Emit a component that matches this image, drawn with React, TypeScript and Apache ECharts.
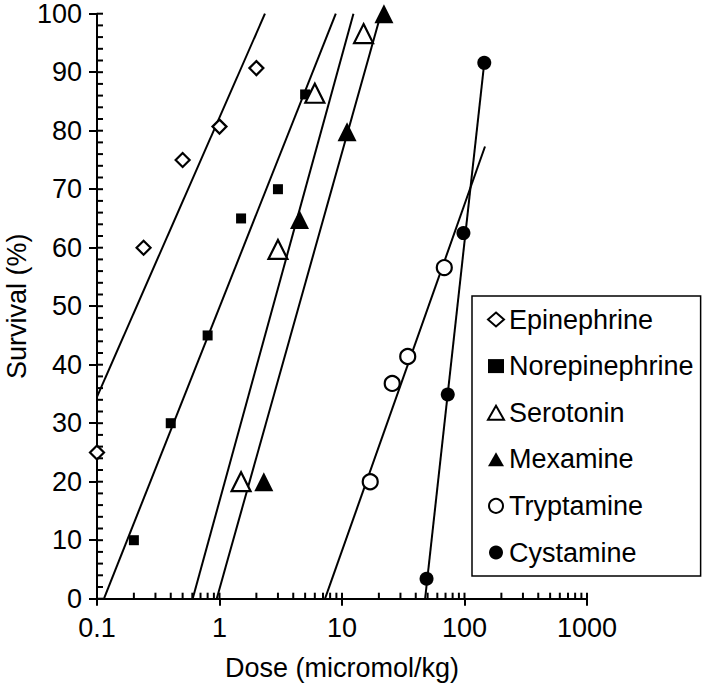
import React, { useEffect, useRef } from "react";
import * as echarts from "echarts";

const FONT = "Liberation Sans";

// Scatter data (dose in micromol/kg, survival %)
const epinephrineDose = [0.1, 0.24, 0.5, 1.0, 2.0];
const epinephrineSurv = [25, 60, 75, 80.7, 90.7];
const norepinephrineDose = [0.2, 0.4, 0.8, 1.5, 3.0, 5.0];
const norepinephrineSurv = [10, 30, 45, 65, 70, 86.2];
const serotoninDose = [1.5, 3.0, 6.0, 15];
const serotoninSurv = [20, 59.7, 86.4, 96.6];
const mexamineDose = [2.3, 4.5, 11, 22];
const mexamineSurv = [20, 64.8, 79.8, 100];
const tryptamineDose = [17, 25.7, 34.4, 68.4];
const tryptamineSurv = [20, 36.8, 41.4, 56.6];
const cystamineDose = [49, 73, 98, 145];
const cystamineSurv = [3.4, 34.9, 62.5, 91.6];

// Fitted line end points [dose, survival]
const epinephrineFit = [[0.1, 34.5], [2.35, 100]];
const norepinephrineFit = [[0.114, 0], [8.9, 100]];
const serotoninFit = [[0.604, 0], [12.4, 100]];
const mexamineFit = [[0.949, 0], [20.8, 100]];
const tryptamineFit = [[7.27, 0], [147, 77.3]];
const cystamineFit = [[47.7, 0], [145, 91.6]];

// Axis tick positions
const xMajorTicks = [0.1, 1, 10, 100, 1000];
const xMinorTicks = [
  0.2, 0.3, 0.4, 0.5, 0.6, 0.7, 0.8, 0.9,
  2, 3, 4, 5, 6, 7, 8, 9,
  20, 30, 40, 50, 60, 70, 80, 90,
  200, 300, 400, 500, 600, 700, 800, 900,
];
const yAllTicks = [
  0, 2, 4, 6, 8, 10, 12, 14, 16, 18, 20, 22, 24, 26, 28, 30, 32, 34, 36, 38, 40,
  42, 44, 46, 48, 50, 52, 54, 56, 58, 60, 62, 64, 66, 68, 70, 72, 74, 76, 78, 80,
  82, 84, 86, 88, 90, 92, 94, 96, 98, 100,
];

const legendNames = ["Epinephrine", "Norepinephrine", "Serotonin", "Mexamine", "Tryptamine", "Cystamine"];

const zip = (xs: number[], ys: number[]) => xs.map((x, i) => [x, ys[i]]);

export default function App() {
  const ref = useRef<HTMLDivElement>(null);
  useEffect(() => {
    if (!ref.current) return;
    const chart = echarts.init(ref.current, null, { renderer: "svg" });
    const hollow = { color: "#ffffff", borderColor: "#000000", borderWidth: 2.2, opacity: 1 };
    const filled = { color: "#000000", opacity: 1 };
    const lineSeries = (name: string, data: number[][]) => ({
      type: "line",
      name,
      data,
      showSymbol: false,
      symbol: "none",
      lineStyle: { color: "#000", width: 2 },
      z: 2,
      silent: true,
    });
    const scatter = (name: string, data: number[][], symbol: string, size: any, style: any) => ({
      type: "scatter",
      name,
      data,
      symbol,
      symbolSize: size,
      itemStyle: style,
      z: 5,
    });
    const axisLabelStyle = { fontFamily: FONT, fontSize: 27, color: "#000" };
    chart.setOption({
      animation: false,
      backgroundColor: "#ffffff",
      grid: { left: 97, right: 117, top: 13.7, bottom: 89.3, containLabel: false, outerBoundsMode: "none" },
      xAxis: {
        type: "log",
        logBase: 10,
        min: 0.1,
        max: 1000,
        name: "Dose (micromol/kg)",
        nameLocation: "middle",
        nameGap: 56,
        nameMoveOverlap: false,
        nameTextStyle: { fontFamily: FONT, fontSize: 27, color: "#000" },
        axisLine: { show: true, lineStyle: { color: "#000", width: 2 } },
        axisTick: { show: true, inside: false, length: 7, lineStyle: { color: "#000", width: 2 } },
        axisLabel: { ...axisLabelStyle, margin: 16, formatter: (v: number) => String(v) },
        splitLine: { show: false },
        minorTick: { show: false },
      },
      yAxis: {
        type: "value",
        min: 0,
        max: 100,
        interval: 10,
        name: "Survival (%)",
        nameLocation: "middle",
        nameGap: 67,
        nameMoveOverlap: false,
        nameTextStyle: { fontFamily: FONT, fontSize: 27, lineHeight: 27, color: "#000" },
        axisLine: { show: true, lineStyle: { color: "#000", width: 2 } },
        axisTick: { show: true, inside: false, length: 8, lineStyle: { color: "#000", width: 2 } },
        axisLabel: { ...axisLabelStyle, margin: 15 },
        splitLine: { show: false },
      },
      legend: {
        data: legendNames,
        orient: "vertical",
        left: 472,
        top: 296,
        padding: [10, 7, 10, 15],
        itemWidth: 16,
        itemHeight: 14,
        itemGap: 19.6,
        borderColor: "#000",
        borderWidth: 1.5,
        borderRadius: 0,
        backgroundColor: "#ffffff",
        textStyle: { fontFamily: FONT, fontSize: 27, color: "#000", lineHeight: 27 },
        selectedMode: false,
      },
      series: [
        lineSeries("fitEpi", epinephrineFit),
        lineSeries("fitNor", norepinephrineFit),
        lineSeries("fitSer", serotoninFit),
        lineSeries("fitMex", mexamineFit),
        lineSeries("fitTry", tryptamineFit),
        lineSeries("fitCys", cystamineFit),
        scatter("Epinephrine", zip(epinephrineDose, epinephrineSurv), "diamond", 14, hollow),
        scatter("Norepinephrine", zip(norepinephrineDose, norepinephrineSurv), "rect", 10, filled),
        scatter("Serotonin", zip(serotoninDose, serotoninSurv), "triangle", [19, 19], hollow),
        scatter("Mexamine", zip(mexamineDose, mexamineSurv), "triangle", [19, 19], filled),
        scatter("Tryptamine", zip(tryptamineDose, tryptamineSurv), "circle", 15, hollow),
        scatter("Cystamine", zip(cystamineDose, cystamineSurv), "circle", 14, filled),
      ],
    });

    // Inner tick marks, placed through the chart's own scales
    const tickStyle = { stroke: "#000", lineWidth: 2 };
    const elements: any[] = [];
    yAllTicks.forEach((v) => {
      const p = chart.convertToPixel({ xAxisIndex: 0, yAxisIndex: 0 }, [0.1, v]) as number[];
      elements.push({ type: "line", silent: true, z: 10, shape: { x1: p[0], y1: p[1], x2: p[0] + 6, y2: p[1] }, style: tickStyle });
    });
    [...xMajorTicks, ...xMinorTicks].forEach((v) => {
      const p = chart.convertToPixel({ xAxisIndex: 0, yAxisIndex: 0 }, [v, 0]) as number[];
      elements.push({ type: "line", silent: true, z: 10, shape: { x1: p[0], y1: p[1], x2: p[0], y2: p[1] - 6 }, style: tickStyle });
    });
    chart.setOption({ graphic: { elements } });

    return () => chart.dispose();
  }, []);
  return <div ref={ref} style={{ width: 704, height: 688, position: "absolute", left: 0, top: 0 }} />;
}
